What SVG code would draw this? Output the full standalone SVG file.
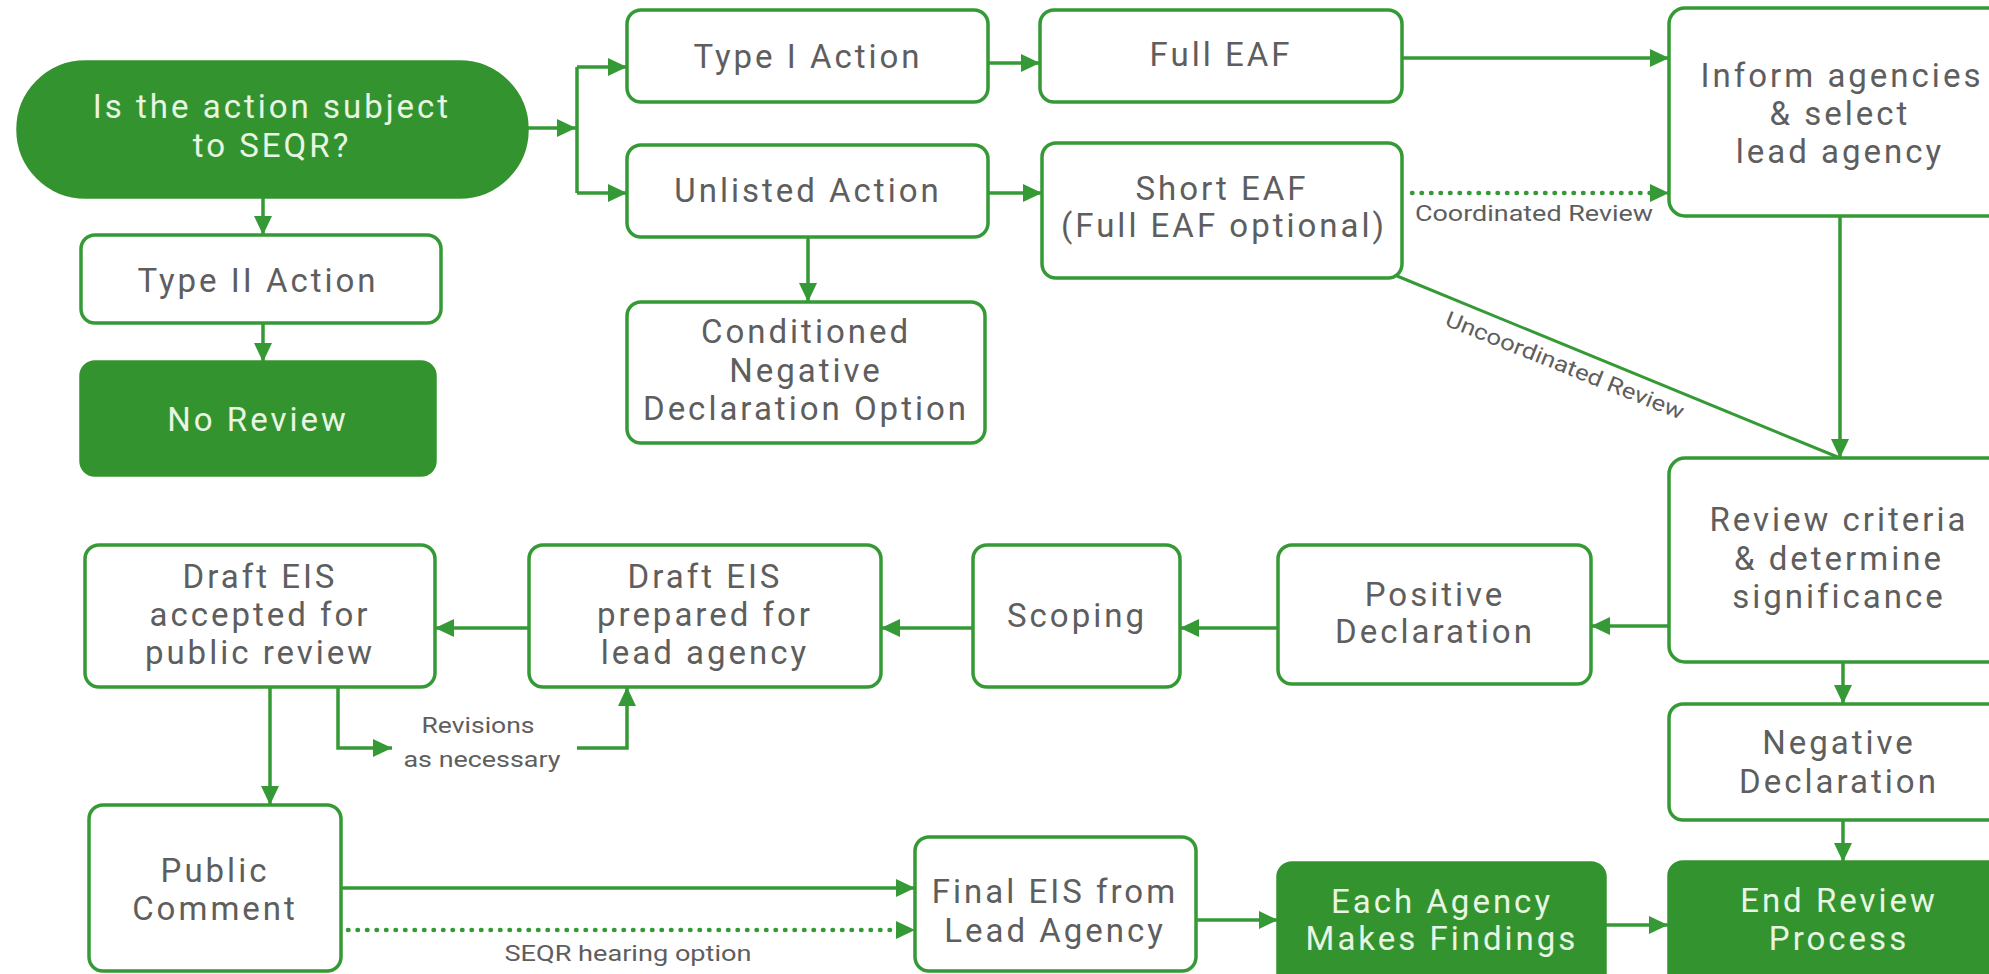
<svg xmlns="http://www.w3.org/2000/svg" width="1989" height="974" viewBox="0 0 1989 974">
<defs>
<marker id="ah" markerUnits="userSpaceOnUse" markerWidth="20" markerHeight="18" refX="19" refY="9" orient="auto">
<path d="M0,0 L19,9 L0,18 Z" fill="#359a35"/>
</marker>
<style>
.box{fill:#ffffff;stroke:#359a35;stroke-width:3.5}
.fill{fill:#33942f;stroke:#33942f;stroke-width:3.5}
.t{font-family:Roboto,"Liberation Sans",sans-serif;font-size:33px;letter-spacing:3px;fill:#5e5e5e;text-anchor:middle}
.tw{fill:#e8f5e2}
.lbl{font-family:Roboto,"Liberation Sans",sans-serif;font-size:22px;fill:#5e5e5e;text-anchor:middle}
.c{fill:none;stroke:#359a35;stroke-width:3.5}
.arr{marker-end:url(#ah)}
.dot{stroke-dasharray:0.5 9;stroke-linecap:round;stroke-width:4.5}
</style>
</defs>
<rect width="1989" height="974" fill="#ffffff"/>

<g id="connectors">
<path class="c arr" d="M527,128 L576,128"/>
<path class="c" d="M577,67 L577,193"/>
<path class="c arr" d="M577,67 L627,67"/>
<path class="c arr" d="M577,193 L627,193"/>
<path class="c arr" d="M263,197 L263,235"/>
<path class="c arr" d="M263,323 L263,362"/>
<path class="c arr" d="M988,63 L1040,63"/>
<path class="c arr" d="M988,193 L1042,193"/>
<path class="c arr" d="M808,237 L808,302"/>
<path class="c arr" d="M1402,58 L1669,58"/>
<path class="c dot arr" d="M1412,193 L1669,193"/>
<path class="c" d="M1397,276 L1840,458" style="stroke-width:3"/>
<path class="c arr" d="M1840,216 L1840,458"/>
<path class="c arr" d="M1669,626 L1591,626"/>
<path class="c arr" d="M1843,662 L1843,704"/>
<path class="c arr" d="M1843,820 L1843,862"/>
<path class="c arr" d="M1278,628 L1180,628"/>
<path class="c arr" d="M973,628 L881,628"/>
<path class="c arr" d="M529,628 L435,628"/>
<path class="c arr" d="M270,687 L270,805"/>
<path class="c arr" d="M338,687 L338,748 L392,748"/>
<path class="c arr" d="M577,748 L627,748 L627,687"/>
<path class="c arr" d="M341,888 L915,888"/>
<path class="c dot arr" d="M348,930 L915,930"/>
<path class="c arr" d="M1196,920 L1278,920"/>
<path class="c arr" d="M1605,925 L1668,925"/>
<text class="lbl" x="1534" y="221" textLength="238" lengthAdjust="spacingAndGlyphs">Coordinated Review</text>
<text class="lbl" transform="translate(1565,365) rotate(21.8)" x="0" y="8" textLength="255" lengthAdjust="spacingAndGlyphs">Uncoordinated Review</text>
<text class="lbl" x="478" y="733" textLength="113" lengthAdjust="spacingAndGlyphs">Revisions</text>
<text class="lbl" x="482" y="767" textLength="157" lengthAdjust="spacingAndGlyphs">as necessary</text>
<text class="lbl" x="628" y="961" textLength="247" lengthAdjust="spacingAndGlyphs">SEQR hearing option</text>
</g>

<g id="start">
<rect class="fill" x="18" y="62" width="509" height="135" rx="67.5"/>
<text class="t tw" x="272" y="118">Is the action subject</text>
<text class="t tw" x="272" y="157">to SEQR?</text>
</g>

<g id="type2">
<rect class="box" x="81" y="235" width="360" height="88" rx="14"/>
<text class="t" x="258" y="292">Type II Action</text>
</g>

<g id="noreview">
<rect class="fill" x="81" y="362" width="354" height="113" rx="14"/>
<text class="t tw" x="258" y="431">No Review</text>
</g>

<g id="type1">
<rect class="box" x="627" y="10" width="361" height="92" rx="14"/>
<text class="t" x="808" y="68">Type I Action</text>
</g>

<g id="fulleaf">
<rect class="box" x="1040" y="10" width="362" height="92" rx="14"/>
<text class="t" x="1221" y="66">Full EAF</text>
</g>

<g id="unlisted">
<rect class="box" x="627" y="145" width="361" height="92" rx="14"/>
<text class="t" x="808" y="202">Unlisted Action</text>
</g>

<g id="shorteaf">
<rect class="box" x="1042" y="143" width="360" height="135" rx="14"/>
<text class="t" x="1222" y="200">Short EAF</text>
<text class="t" x="1224" y="237">(Full EAF optional)</text>
</g>

<g id="conditioned">
<rect class="box" x="627" y="302" width="358" height="141" rx="14"/>
<text class="t" x="806" y="343">Conditioned</text>
<text class="t" x="806" y="382">Negative</text>
<text class="t" x="806" y="420">Declaration Option</text>
</g>

<g id="inform">
<rect class="box" x="1669" y="8" width="346" height="208" rx="16"/>
<text class="t" x="1842" y="87">Inform agencies</text>
<text class="t" x="1840" y="125">&amp; select</text>
<text class="t" x="1840" y="163">lead agency</text>
</g>

<g id="reviewcriteria">
<rect class="box" x="1669" y="458" width="346" height="204" rx="16"/>
<text class="t" x="1839" y="531">Review criteria</text>
<text class="t" x="1839" y="570">&amp; determine</text>
<text class="t" x="1839" y="608">significance</text>
</g>

<g id="negative">
<rect class="box" x="1669" y="704" width="346" height="116" rx="14"/>
<text class="t" x="1839" y="754">Negative</text>
<text class="t" x="1839" y="793">Declaration</text>
</g>

<g id="endreview">
<rect class="fill" x="1669" y="862" width="346" height="130" rx="14"/>
<text class="t tw" x="1839" y="912">End Review</text>
<text class="t tw" x="1839" y="950">Process</text>
</g>

<g id="positive">
<rect class="box" x="1278" y="545" width="313" height="139" rx="14"/>
<text class="t" x="1435" y="606">Positive</text>
<text class="t" x="1435" y="643">Declaration</text>
</g>

<g id="scoping">
<rect class="box" x="973" y="545" width="207" height="142" rx="14"/>
<text class="t" x="1077" y="627">Scoping</text>
</g>

<g id="draftprepared">
<rect class="box" x="529" y="545" width="352" height="142" rx="14"/>
<text class="t" x="705" y="588">Draft EIS</text>
<text class="t" x="705" y="626">prepared for</text>
<text class="t" x="705" y="664">lead agency</text>
</g>

<g id="draftaccepted">
<rect class="box" x="85" y="545" width="350" height="142" rx="14"/>
<text class="t" x="260" y="588">Draft EIS</text>
<text class="t" x="260" y="626">accepted for</text>
<text class="t" x="260" y="664">public review</text>
</g>

<g id="publiccomment">
<rect class="box" x="89" y="805" width="252" height="166" rx="14"/>
<text class="t" x="215" y="882">Public</text>
<text class="t" x="215" y="920">Comment</text>
</g>

<g id="finaleis">
<rect class="box" x="915" y="837" width="281" height="134" rx="14"/>
<text class="t" x="1055" y="903">Final EIS from</text>
<text class="t" x="1055" y="942">Lead Agency</text>
</g>

<g id="eachagency">
<rect class="fill" x="1278" y="863" width="327" height="130" rx="14"/>
<text class="t tw" x="1442" y="913">Each Agency</text>
<text class="t tw" x="1442" y="950">Makes Findings</text>
</g>
</svg>
